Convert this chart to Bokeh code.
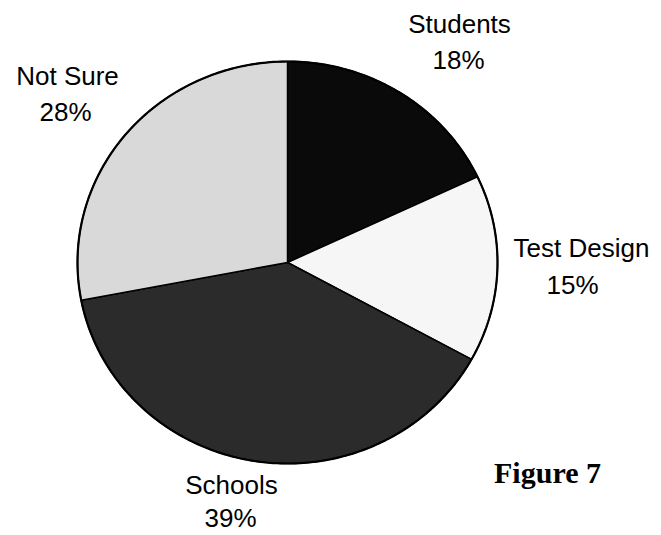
import numpy as np
from bokeh.plotting import figure
from bokeh.models import Range1d, ColumnDataSource
from bokeh.core.properties import value
from bokeh.embed import file_html
from bokeh.resources import INLINE

# ---- data ----
categories = ["Students", "Test Design", "Schools", "Not Sure"]
shares = [18, 15, 39, 28]
pct_labels = ["18%", "15%", "39%", "28%"]
colors = ["#0a0a0a", "#f6f6f6", "#2b2b2b", "#d9d9d9"]

# ---- layout (pixel space, y downward) ----
W, H = 661, 535
cx, cy, rx, ry = 287, 262, 210, 201
name_xy = {"Students": (459, 23), "Test Design": (581, 247), "Schools": (231, 484), "Not Sure": (67, 75)}
pct_xy = {"Students": (458, 59), "Test Design": (572, 284), "Schools": (230, 517), "Not Sure": (65, 111)}

p = figure(width=W, height=H, output_backend="svg", toolbar_location=None,
           x_range=Range1d(0, W), y_range=Range1d(H, 0), min_border=0)
p.axis.visible = False
p.grid.visible = False
p.outline_line_color = None
p.background_fill_color = "white"
p.border_fill_color = "white"

total = float(sum(shares))
xs, ys = [], []
cum = 0.0
for s in shares:
    a0 = np.pi / 2 - 2 * np.pi * cum / total
    a1 = np.pi / 2 - 2 * np.pi * (cum + s) / total
    t = np.linspace(a0, a1, 200)
    px = np.concatenate([[cx], cx + rx * np.cos(t), [cx]])
    py = np.concatenate([[cy], cy - ry * np.sin(t), [cy]])
    xs.append(list(px))
    ys.append(list(py))
    cum += s

src = ColumnDataSource(dict(xs=xs, ys=ys, color=colors, cat=categories))
p.patches("xs", "ys", source=src, fill_color="color", line_color="black", line_width=1.5)

# outer outline thicker
t = np.linspace(0, 2 * np.pi, 400)
p.line(cx + rx * np.cos(t), cy - ry * np.sin(t), line_color="black", line_width=2.2)

font = value("Liberation Sans")
names_src = ColumnDataSource(dict(
    x=[name_xy[c][0] for c in categories], y=[name_xy[c][1] for c in categories], text=categories))
pct_src = ColumnDataSource(dict(
    x=[pct_xy[c][0] for c in categories], y=[pct_xy[c][1] for c in categories], text=pct_labels))
for s in (names_src, pct_src):
    p.text("x", "y", text="text", source=s, text_font=font, text_font_size="26px",
           text_align="center", text_baseline="alphabetic", text_color="black")

p.text(x=[547], y=[472], text=["Figure 7"], text_font=value("Liberation Serif"),
       text_font_size="30px", text_font_style="bold", text_align="center",
       text_baseline="alphabetic", text_color="black")

open("out.html", "w").write(file_html(p, INLINE))
